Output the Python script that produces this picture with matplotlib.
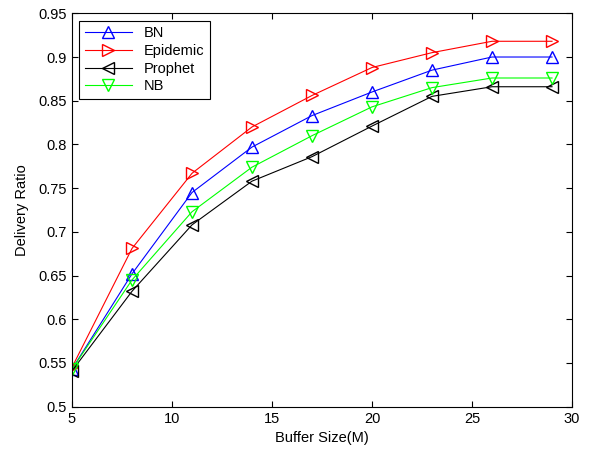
import numpy as np
import matplotlib
matplotlib.use('Agg')
import matplotlib.pyplot as plt

plt.rcParams['font.family'] = ['Liberation Sans', 'DejaVu Sans']

# Buffer size (M)
buffer_size = [5, 8, 11, 14, 17, 20, 23, 26, 29]

# delivery ratio per protocol
bn = [0.543, 0.652, 0.745, 0.797, 0.833, 0.860, 0.885, 0.900, 0.900]
epidemic = [0.545, 0.681, 0.767, 0.820, 0.856, 0.888, 0.905, 0.918, 0.918]
prophet = [0.541, 0.632, 0.708, 0.758, 0.786, 0.821, 0.855, 0.866, 0.866]
nb = [0.543, 0.645, 0.723, 0.774, 0.810, 0.843, 0.865, 0.876, 0.876]

fig = plt.figure(figsize=(5.93, 4.51), dpi=100)
ax = fig.add_axes([0.1214, 0.0982, 0.8432, 0.8723])

ms = 8
ax.plot(buffer_size, bn, color='#0000ff', marker='^', ms=ms, mfc='none', lw=0.8, label='BN')
ax.plot(buffer_size, epidemic, color='#ff0000', marker='>', ms=ms, mfc='none', lw=0.8, label='Epidemic')
ax.plot(buffer_size, prophet, color='#000000', marker='<', ms=ms, mfc='none', lw=0.8, label='Prophet')
ax.plot(buffer_size, nb, color='#00ff00', marker='v', ms=ms, mfc='none', lw=0.8, label='NB')

ax.set_xlim(5, 30)
ax.set_ylim(0.5, 0.95)
ax.set_xticks([5, 10, 15, 20, 25, 30])
ax.set_xticklabels(['5', '10', '15', '20', '25', '30'])
yt = [0.5, 0.55, 0.6, 0.65, 0.7, 0.75, 0.8, 0.85, 0.9, 0.95]
ax.set_yticks(yt)
ax.set_yticklabels(['0.5', '0.55', '0.6', '0.65', '0.7', '0.75', '0.8', '0.85', '0.9', '0.95'])
ax.tick_params(direction='in', top=True, right=True, labelsize=10.5, length=4, width=0.8)
for s in ax.spines.values():
    s.set_linewidth(0.8)

ax.set_xlabel('Buffer Size(M)', fontsize=10.5, labelpad=4)
ax.set_ylabel('Delivery Ratio', fontsize=10.5, labelpad=7)

leg = ax.legend(loc='upper left', fontsize=10.5, fancybox=False, edgecolor='black',
                framealpha=1, handlelength=3.2, borderaxespad=0.5, labelspacing=0.25)
leg.get_frame().set_linewidth(0.8)

fig.savefig('out.png', dpi=100)
